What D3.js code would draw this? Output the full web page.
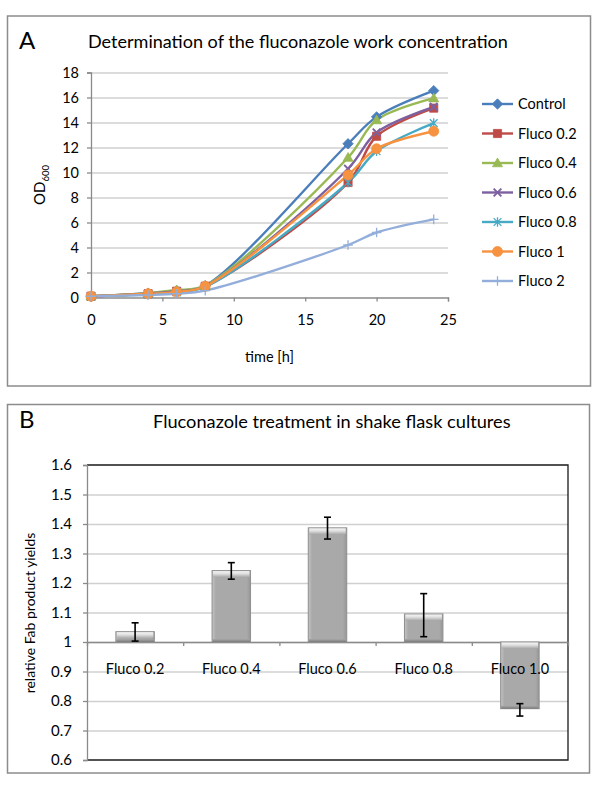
<!DOCTYPE html>
<html><head><meta charset="utf-8">
<script src="https://cdn.jsdelivr.net/npm/d3@7"></script>
<style>
body{margin:0;background:#fff}
svg{display:block}
text{font-family:Lato,"Open Sans",sans-serif;fill:#000}
</style>
</head><body>
<svg id="chart" width="600" height="785"></svg>
<script>
// ---------- Panel A data ----------
const times = [0, 4, 6, 8, 18, 20, 24];
const seriesNames = ["Control", "Fluco 0.2", "Fluco 0.4", "Fluco 0.6", "Fluco 0.8", "Fluco 1", "Fluco 2"];
const control  = [0.1, 0.35, 0.55, 0.95, 12.3, 14.45, 16.55];
const fluco02  = [0.1, 0.3, 0.5, 0.9, 9.2, 12.9, 15.15];
const fluco04  = [0.1, 0.35, 0.6, 0.95, 11.2, 14.2, 15.95];
const fluco06  = [0.1, 0.3, 0.5, 0.9, 10.3, 13.2, 15.25];
const fluco08  = [0.1, 0.25, 0.4, 0.85, 9.2, 11.7, 13.95];
const fluco1   = [0.1, 0.3, 0.45, 0.9, 9.8, 11.9, 13.3];
const fluco2   = [0.1, 0.2, 0.3, 0.55, 4.2, 5.2, 6.25];
const seriesColors = ["#4A7EBB", "#BE4B48", "#98B954", "#7D60A0", "#46AAC5", "#F69240", "#93AEDA"];
const seriesMarkers = ["diamond", "square", "triangle", "times", "asterisk", "circle", "plus"];
const yTicksA = [0, 2, 4, 6, 8, 10, 12, 14, 16, 18];
const xTicksA = [0, 5, 10, 15, 20, 25];

// ---------- Panel B data ----------
const barCategories = ["Fluco 0.2", "Fluco 0.4", "Fluco 0.6", "Fluco 0.8", "Fluco 1.0"];
const barValues = [1.035, 1.242, 1.387, 1.095, 0.774];
const barErrCenters = [1.034, 1.241, 1.386, 1.091, 0.770];
const barErrors = [0.031, 0.028, 0.037, 0.073, 0.021];
const yTicksB = [0.6, 0.7, 0.8, 0.9, 1.0, 1.1, 1.2, 1.3, 1.4, 1.5, 1.6];
const yTickLabelsB = ["0.6", "0.7", "0.8", "0.9", "1", "1.1", "1.2", "1.3", "1.4", "1.5", "1.6"];

const seriesValues = [control, fluco02, fluco04, fluco06, fluco08, fluco1, fluco2];

const svg = d3.select("#chart");

function fit(sel, w) {
  const n = sel.node();
  const fs = parseFloat(sel.attr("font-size"));
  const cur = n.getComputedTextLength();
  if (cur > 0) sel.attr("font-size", (fs * w / cur).toFixed(2));
  return parseFloat(sel.attr("font-size"));
}

// ================= PANEL A =================
svg.append("rect").attr("x", 7.5).attr("y", 16).attr("width", 583).attr("height", 370)
  .attr("fill", "#fff").attr("stroke", "#8c8c8c").attr("stroke-width", 1.5);
svg.append("text").attr("x", 19).attr("y", 49).attr("font-size", 24).text("A");
const tA = svg.append("text").attr("x", 88).attr("y", 48).attr("font-size", 17)
  .text("Determination of the fluconazole work concentration");
fit(tA, 420);

const xA = d3.scaleLinear().domain([0, 25]).range([91, 448]);
const yA = d3.scaleLinear().domain([0, 18]).range([297.5, 72.5]);

// gridlines
svg.append("g").attr("transform", "translate(91,0)")
  .call(d3.axisLeft(yA).tickValues(yTicksA.filter(d => d > 0)).tickSize(-(448 - 91)).tickFormat(""))
  .call(g => g.select(".domain").remove())
  .call(g => g.selectAll("line").attr("stroke", "#d0d0d0").attr("stroke-width", 1.3));

const axYA = svg.append("g").attr("transform", "translate(91,0)")
  .call(d3.axisLeft(yA).tickValues(yTicksA).tickSize(4).tickPadding(8).tickFormat(d3.format("d")));
axYA.select(".domain").attr("stroke", "#8a8a8a").attr("stroke-width", 1.3);
axYA.selectAll("line").attr("stroke", "#8a8a8a").attr("stroke-width", 1.3);
axYA.selectAll("text").attr("font-size", 14.5).attr("font-family", "Lato").attr("fill", "#000");

const axXA = svg.append("g").attr("transform", "translate(0,297.5)")
  .call(d3.axisBottom(xA).tickValues(xTicksA).tickSize(4).tickPadding(13).tickFormat(d3.format("d")));
axXA.select(".domain").attr("stroke", "#8a8a8a").attr("stroke-width", 1.3);
axXA.selectAll("line").attr("stroke", "#8a8a8a").attr("stroke-width", 1.3);
axXA.selectAll("text").attr("font-size", 14.5).attr("font-family", "Lato").attr("fill", "#000");

svg.append("text").attr("x", 269.5).attr("y", 362).attr("text-anchor", "middle")
  .attr("font-size", 14.5).text("time [h]");

const od = svg.append("text").attr("transform", "translate(45,185) rotate(-90)")
  .attr("text-anchor", "middle").attr("font-size", 15);
od.append("tspan").text("OD");
od.append("tspan").attr("font-size", 9.5).attr("dy", 4).text("600");

// markers
function markerPath(type, r) {
  switch (type) {
    case "diamond": return `M0,${-r}L${r},0L0,${r}L${-r},0Z`;
    case "square": return `M${-r * 0.85},${-r * 0.85}h${r * 1.7}v${r * 1.7}h${-r * 1.7}Z`;
    case "triangle": return `M0,${-r}L${r},${r * 0.75}L${-r},${r * 0.75}Z`;
    case "circle": return d3.arc()({innerRadius: 0, outerRadius: r, startAngle: 0, endAngle: 2 * Math.PI});
    case "times": return `M${-r * 0.8},${-r * 0.8}L${r * 0.8},${r * 0.8}M${-r * 0.8},${r * 0.8}L${r * 0.8},${-r * 0.8}`;
    case "asterisk": return `M${-r * 0.8},${-r * 0.8}L${r * 0.8},${r * 0.8}M${-r * 0.8},${r * 0.8}L${r * 0.8},${-r * 0.8}M0,${-r}V${r}`;
    case "plus": return `M${-r},0H${r}M0,${-r}V${r}`;
  }
}
function drawMarker(g, type, color, x, y) {
  const stroked = (type === "times" || type === "asterisk" || type === "plus");
  const r = type === "circle" ? 5 : (type === "diamond" ? 5.2 : (type === "triangle" ? 5 : 4.8));
  g.append("path").attr("transform", `translate(${x},${y})`).attr("d", markerPath(type, r))
    .attr("fill", stroked ? "none" : color)
    .attr("stroke", color)
    .attr("stroke-width", type === "times" ? 2 : (stroked ? 1.3 : 0.8));
}

const line = d3.line().x(d => xA(d[0])).y(d => yA(d[1])).curve(d3.curveCatmullRom.alpha(0.5));
const plotA = svg.append("g");
seriesValues.forEach((vals, i) => {
  const pts = times.map((t, j) => [t, vals[j]]);
  plotA.append("path").attr("d", line(pts)).attr("fill", "none")
    .attr("stroke", seriesColors[i]).attr("stroke-width", 2.4).attr("stroke-linejoin", "round");
});
seriesValues.forEach((vals, i) => {
  const g = plotA.append("g");
  times.forEach((t, j) => drawMarker(g, seriesMarkers[i], seriesColors[i], xA(t), yA(vals[j])));
});

// legend
const legY = d3.scalePoint().domain(seriesNames).range([104, 281]);
const leg = svg.append("g");
seriesNames.forEach((n, i) => {
  const y = legY(n);
  leg.append("line").attr("x1", 482).attr("x2", 513).attr("y1", y).attr("y2", y)
    .attr("stroke", seriesColors[i]).attr("stroke-width", 2.4);
  drawMarker(leg, seriesMarkers[i], seriesColors[i], 497.5, y);
  leg.append("text").attr("x", 518).attr("y", y).attr("dy", "0.35em")
    .attr("font-size", 14.5).text(n);
});

// ================= PANEL B =================
svg.append("rect").attr("x", 7.5).attr("y", 404.5).attr("width", 582).attr("height", 368.5)
  .attr("fill", "#fff").attr("stroke", "#8c8c8c").attr("stroke-width", 1.5);
svg.append("text").attr("x", 19).attr("y", 428).attr("font-size", 24).text("B");
const tB = svg.append("text").attr("x", 153).attr("y", 428).attr("font-size", 17)
  .text("Fluconazole treatment in shake flask cultures");
fit(tB, 358);

const left = 87, right = 568;
const yB = d3.scaleLinear().domain([0.6, 1.6]).range([760, 465]);
const xB = d3.scaleBand().domain(barCategories).range([left, right]).paddingInner(0.6).paddingOuter(0.3);
const xBnd = d3.scaleLinear().domain([0, barCategories.length]).range([left, right]);

// gridlines
svg.append("g").attr("transform", `translate(${left},0)`)
  .call(d3.axisLeft(yB).tickValues(yTicksB.filter(d => d > 0.65 && d < 1.55)).tickSize(-(right - left)).tickFormat(""))
  .call(g => g.select(".domain").remove())
  .call(g => g.selectAll("line").attr("stroke", "#d0d0d0").attr("stroke-width", 1.5));

// plot border (top, right, bottom)
svg.append("path").attr("d", `M${left},465H${right}V760H${left}`)
  .attr("fill", "none").attr("stroke", "#1a1a1a").attr("stroke-width", 1.3);

const axYB = svg.append("g").attr("transform", `translate(${left},0)`)
  .call(d3.axisLeft(yB).tickValues(yTicksB).tickSize(4).tickPadding(11)
    .tickFormat((d, i) => yTickLabelsB[i]));
axYB.select(".domain").attr("stroke", "#8a8a8a").attr("stroke-width", 1.3);
axYB.selectAll("line").attr("stroke", "#8a8a8a").attr("stroke-width", 1.3);
axYB.selectAll("text").attr("font-size", 15).attr("font-family", "Lato").attr("fill", "#000");

// category axis at 1.0
const axXB = svg.append("g").attr("transform", `translate(0,${yB(1)})`)
  .call(d3.axisBottom(xBnd).tickValues([1, 2, 3, 4]).tickSize(4).tickFormat(""));
axXB.select(".domain").attr("stroke", "#8a8a8a").attr("stroke-width", 1.3);
axXB.selectAll("line").attr("stroke", "#8a8a8a").attr("stroke-width", 1.3);

// gradients
const defs = svg.append("defs");
const gBody = defs.append("linearGradient").attr("id", "body").attr("x1", 0).attr("x2", 1).attr("y1", 0).attr("y2", 0);
[[0, "#c4c4c4"], [0.1, "#a9a9a9"], [0.9, "#a9a9a9"], [1, "#969696"]].forEach(s =>
  gBody.append("stop").attr("offset", s[0]).attr("stop-color", s[1]));
const gTop = defs.append("linearGradient").attr("id", "top").attr("x1", 0).attr("x2", 0).attr("y1", 0).attr("y2", 1);
[[0, "#f4f4f4"], [0.4, "#e2e2e2"], [1, "#a9a9a9"]].forEach(s =>
  gTop.append("stop").attr("offset", s[0]).attr("stop-color", s[1]));
const gBot = defs.append("linearGradient").attr("id", "bot").attr("x1", 0).attr("x2", 0).attr("y1", 0).attr("y2", 1);
[[0, "#a9a9a9"], [1, "#7a7a7a"]].forEach(s =>
  gBot.append("stop").attr("offset", s[0]).attr("stop-color", s[1]));

const bars = svg.append("g");
barCategories.forEach((c, i) => {
  const v = barValues[i];
  const x = xB(c), w = xB.bandwidth();
  const y0 = Math.min(yB(v), yB(1)), h = Math.abs(yB(v) - yB(1));
  bars.append("rect").attr("x", x).attr("y", y0).attr("width", w).attr("height", h)
    .attr("fill", "url(#body)").attr("stroke", "#8f8f8f").attr("stroke-width", 1);
  bars.append("rect").attr("x", x + 1).attr("y", y0 + 0.5).attr("width", w - 2).attr("height", Math.min(6, h - 1))
    .attr("fill", "url(#top)");
  bars.append("rect").attr("x", x + 0.5).attr("y", y0 + h - 3).attr("width", w - 1).attr("height", 3)
    .attr("fill", "url(#bot)");
});

// error bars
const eb = svg.append("g").attr("stroke", "#000").attr("stroke-width", 1.6);
barCategories.forEach((c, i) => {
  const cx = xB(c) + xB.bandwidth() / 2;
  const hi = yB(barErrCenters[i] + barErrors[i]), lo = yB(barErrCenters[i] - barErrors[i]);
  eb.append("line").attr("x1", cx).attr("x2", cx).attr("y1", hi).attr("y2", lo);
  eb.append("line").attr("x1", cx - 3.5).attr("x2", cx + 3.5).attr("y1", hi).attr("y2", hi);
  eb.append("line").attr("x1", cx - 3.5).attr("x2", cx + 3.5).attr("y1", lo).attr("y2", lo);
});

// category labels
const cl = svg.append("g");
barCategories.forEach((c, i) => {
  cl.append("text").attr("x", xB(c) + xB.bandwidth() / 2).attr("y", 674)
    .attr("text-anchor", "middle").attr("font-size", 14.5).text(c);
});

svg.append("text").attr("transform", "translate(35,613) rotate(-90)")
  .attr("text-anchor", "middle").attr("font-size", 14).text("relative Fab product yields");
</script>
</body></html>
